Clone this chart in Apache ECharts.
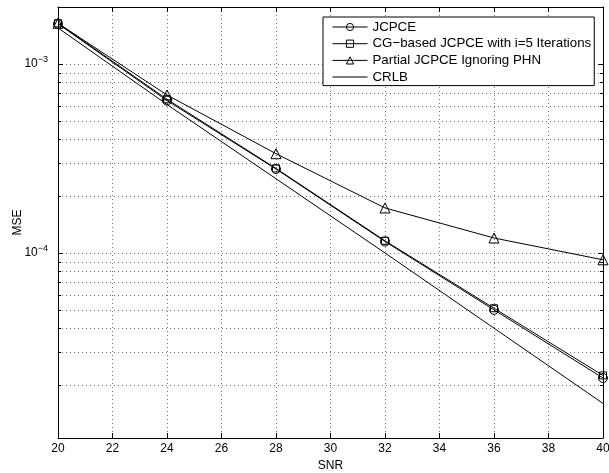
<!DOCTYPE html>
<html>
<head>
<meta charset="utf-8">
<script src="https://cdn.jsdelivr.net/npm/echarts@6/dist/echarts.min.js"></script>
<style>
  html, body { margin: 0; padding: 0; background: #fff; }
  #main { width: 609px; height: 473px; }
</style>
</head>
<body>
<div id="main"></div>
<script>
// SNR values (x)
var snr = [20, 24, 28, 32, 36, 40];
// MSE values
var jcpce = [1.63e-3, 6.4e-4, 2.78e-4, 1.15e-4, 5.0e-5, 2.18e-5];
var cgJcpce = [1.64e-3, 6.5e-4, 2.8e-4, 1.16e-4, 5.1e-5, 2.25e-5];
var partial = [1.64e-3, 6.85e-4, 3.35e-4, 1.73e-4, 1.2e-4, 9.2e-5];
var crlb = [1.55e-3, 6.1e-4, 2.47e-4, 1.0e-4, 4.0e-5, 1.6e-5];
// minor (dotted) grid values of the log axis
var minorGrid = [2e-5, 3e-5, 4e-5, 5e-5, 6e-5, 7e-5, 8e-5, 9e-5,
  2e-4, 3e-4, 4e-4, 5e-4, 6e-4, 7e-4, 8e-4, 9e-4];

var font = 'Liberation Sans, Arial, sans-serif';
var gridDot = { type: [1, 3], color: '#777', width: 1 };

function pairs(ys) {
  return snr.map(function (x, i) { return [x, ys[i]]; });
}

function lineSeries(name, data, symbol, size) {
  return {
    name: name,
    type: 'line',
    z: 3,
    data: pairs(data),
    symbol: symbol,
    symbolSize: size,
    lineStyle: { color: '#000', width: 1 },
    itemStyle: { color: 'rgba(255,255,255,0)', borderColor: '#000', borderWidth: 1 },
    emphasis: { disabled: true },
    animation: false
  };
}

// dotted minor grid lines + minor ticks, positioned by the axes
var minorSeries = {
  type: 'custom',
  z: 1,
  silent: true,
  animation: false,
  data: minorGrid.map(function (v) { return [snr[0], v]; }),
  encode: { x: 0, y: 1 },
  renderItem: function (params, api) {
    var v = api.value(1);
    var a = api.coord([20, v]);
    var b = api.coord([40, v]);
    var y = Math.round(a[1]) + 0.5;
    var tick = { stroke: '#000', lineWidth: 1 };
    return {
      type: 'group',
      children: [
        { type: 'line', shape: { x1: a[0], y1: y, x2: b[0], y2: y },
          style: { stroke: '#777', lineWidth: 1, lineDash: [1, 3] } },
        { type: 'line', shape: { x1: a[0], y1: y, x2: a[0] + 3, y2: y }, style: tick },
        { type: 'line', shape: { x1: b[0] - 3, y1: y, x2: b[0], y2: y }, style: tick }
      ]
    };
  }
};

var myChart = echarts.init(document.getElementById('main'));

var option = {
  backgroundColor: '#fff',
  textStyle: { fontFamily: font },
  grid: { left: 58, right: 6, top: 7, bottom: 35, containLabel: false, outerBoundsMode: 'none' },
  legend: {
    orient: 'vertical',
    left: 323,
    top: 17,
    z: 10,
    backgroundColor: '#fff',
    borderColor: '#000',
    borderWidth: 1,
    borderRadius: 0,
    padding: [3.5, 3, 2, 9],
    itemWidth: 35,
    itemHeight: 9,
    itemGap: 3.7,
    lineStyle: { width: 1 },
    itemStyle: { borderWidth: 1 },
    textStyle: { fontFamily: font, fontSize: 13.3, lineHeight: 13, color: '#000' },
    data: [
      'JCPCE',
      'CG−based JCPCE with i=5 Iterations',
      'Partial JCPCE Ignoring PHN',
      { name: 'CRLB', icon: 'path://M0,0L35,0L35,1L0,1Z', itemStyle: { color: '#000', borderWidth: 0 } }
    ]
  },
  xAxis: [
    {
      type: 'value',
      min: 20,
      max: 40,
      interval: 2,
      name: 'SNR',
      nameLocation: 'middle',
      nameGap: 21,
      nameTextStyle: { fontFamily: font, fontSize: 12, color: '#000' },
      axisLine: { show: true, onZero: false, lineStyle: { color: '#000', width: 1 } },
      axisTick: { show: true, inside: true, length: 5, lineStyle: { color: '#000' } },
      axisLabel: { margin: 5, fontFamily: font, fontSize: 12, color: '#000' },
      splitLine: { show: true, lineStyle: gridDot }
    },
    {
      type: 'value',
      position: 'top',
      min: 20,
      max: 40,
      interval: 2,
      axisLine: { show: true, onZero: false, lineStyle: { color: '#000', width: 1 } },
      axisTick: { show: true, inside: true, length: 5, lineStyle: { color: '#000' } },
      axisLabel: { show: false },
      splitLine: { show: false }
    }
  ],
  yAxis: [
    {
      type: 'log',
      logBase: 10,
      min: 1.05e-5,
      max: 2e-3,
      name: 'MSE',
      nameLocation: 'middle',
      nameGap: 34,
      nameMoveOverlap: false,
      nameTextStyle: { fontFamily: font, fontSize: 12, color: '#000' },
      axisLine: { show: true, onZero: false, lineStyle: { color: '#000', width: 1 } },
      axisTick: { show: true, inside: true, length: 5, lineStyle: { color: '#000' } },
      axisLabel: {
        showMinLabel: false,
        showMaxLabel: false,
        margin: 10,
        color: '#000',
        fontFamily: font,
        fontSize: 12,
        formatter: function (v) {
          var e = Math.round(Math.log10(v));
          return '10{sup|' + (e < 0 ? '−' + (-e) : e) + '}';
        },
        rich: {
          sup: { fontSize: 9, fontFamily: font, color: '#000', verticalAlign: 'bottom', padding: [0, 0, 9, 0] }
        }
      },
      splitLine: { show: true, lineStyle: gridDot }
    },
    {
      type: 'log',
      logBase: 10,
      position: 'right',
      min: 1.05e-5,
      max: 2e-3,
      axisLine: { show: true, onZero: false, lineStyle: { color: '#000', width: 1 } },
      axisTick: { show: true, inside: true, length: 5, lineStyle: { color: '#000' } },
      axisLabel: { show: false },
      splitLine: { show: false }
    }
  ],
  series: [
    lineSeries('JCPCE', jcpce, 'circle', 9),
    lineSeries('CG−based JCPCE with i=5 Iterations', cgJcpce, 'rect', 7),
    lineSeries('Partial JCPCE Ignoring PHN', partial, 'triangle', 10),
    lineSeries('CRLB', crlb, 'none', 0),
    minorSeries
  ]
};

option && myChart.setOption(option);
</script>
</body>
</html>
